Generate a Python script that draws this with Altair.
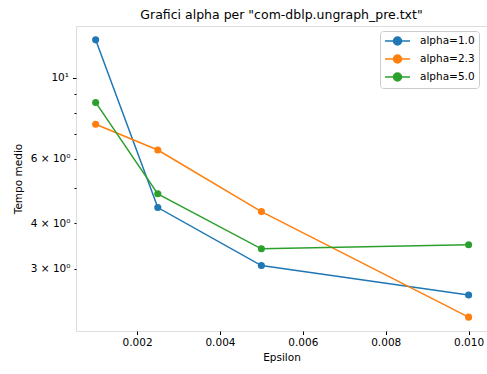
import altair as alt
import pandas as pd

epsilon = [0.001, 0.0025, 0.005, 0.01]
alpha_labels = ["alpha=1.0", "alpha=2.3", "alpha=5.0"]
t_alpha_1_0 = [12.7, 4.41, 3.06, 2.54]
t_alpha_2_3 = [7.46, 6.34, 4.30, 2.21]
t_alpha_5_0 = [8.56, 4.81, 3.40, 3.49]
colors = ["#1f77b4", "#ff7f0e", "#2ca02c"]

x_ticks = [0.002, 0.004, 0.006, 0.008, 0.010]
y_ticks = [3, 4, 5, 6, 7, 8, 9, 10]

rows = []
for lab, vals in zip(alpha_labels, [t_alpha_1_0, t_alpha_2_3, t_alpha_5_0]):
    for i, (e, v) in enumerate(zip(epsilon, vals)):
        rows.append({"eps": e, "t": v, "series": lab, "ord": i})
df = pd.DataFrame(rows)

FONT = "DejaVu Sans"
common = dict(labelFont=FONT, labelFontSize=10.5, labelColor="black",
              titleFont=FONT, titleFontSize=10.5, titleFontWeight="normal",
              titleColor="black", tickColor="black", tickWidth=1,
              grid=False, domain=False)

x_enc = alt.X(
    "eps:Q",
    scale=alt.Scale(domain=[0.000526, 0.010444], nice=False, zero=False),
    axis=alt.Axis(values=x_ticks, format=".3f", title="Epsilon",
                  tickSize=3.5, labelPadding=3, titlePadding=4, **common),
)
y_enc = alt.Y(
    "t:Q",
    scale=alt.Scale(type="log", domain=[2.025, 13.86], nice=False),
    axis=alt.Axis(
        values=y_ticks, title="Tempo medio",
        labelExpr="datum.value == 10 ? '10¹' : datum.value == 6 ? '6 × 10⁰' : datum.value == 4 ? '4 × 10⁰' : datum.value == 3 ? '3 × 10⁰' : ''",
        tickSize={"condition": {"test": "datum.value == 10", "value": 3.5}, "value": 2},
        labelPadding=4, titlePadding=7, **common,
    ),
)

cscale = alt.Scale(domain=alpha_labels, range=colors)
# symbol: 25px line with a filled dot (scale factor sqrt(size)/2 = 5)
sym = "M-1,0H0.7A0.8,0.8 0 1,1 2.3,0A0.8,0.8 0 1,1 0.7,0M2.3,0H4"
leg = alt.Legend(
    title=None, orient="none", legendX=304, legendY=5,
    symbolType=sym, symbolSize=100, symbolStrokeWidth=1.5,
    labelFontSize=10.5, labelFont=FONT, labelColor="black", labelOffset=24,
    fillColor="white", strokeColor="#cccccc", cornerRadius=3, padding=4,
    rowPadding=4,
)

lines = alt.Chart(df).mark_line(strokeWidth=1.5).encode(
    x=x_enc, y=y_enc,
    stroke=alt.Stroke("series:N", scale=cscale, legend=leg),
    order="ord:Q",
)
points = alt.Chart(df).mark_point(filled=True, size=50, opacity=1).encode(
    x=x_enc, y=y_enc,
    fill=alt.Fill("series:N", scale=cscale, legend=leg),
)

chart = alt.layer(lines, points).properties(
    width=411, height=305,
    title=alt.Title('Grafici alpha per "com-dblp.ungraph_pre.txt"', fontSize=12.5,
                    fontWeight="normal", font=FONT, color="black", anchor="middle", offset=5),
    autosize=alt.AutoSizeParams(type="none"),
    padding={"left": 76, "top": 26, "right": 0, "bottom": 43},
).configure_view(stroke="black", strokeWidth=1).configure(background="white")

chart.save("out.html", embed_options={"renderer": "svg", "actions": False})
